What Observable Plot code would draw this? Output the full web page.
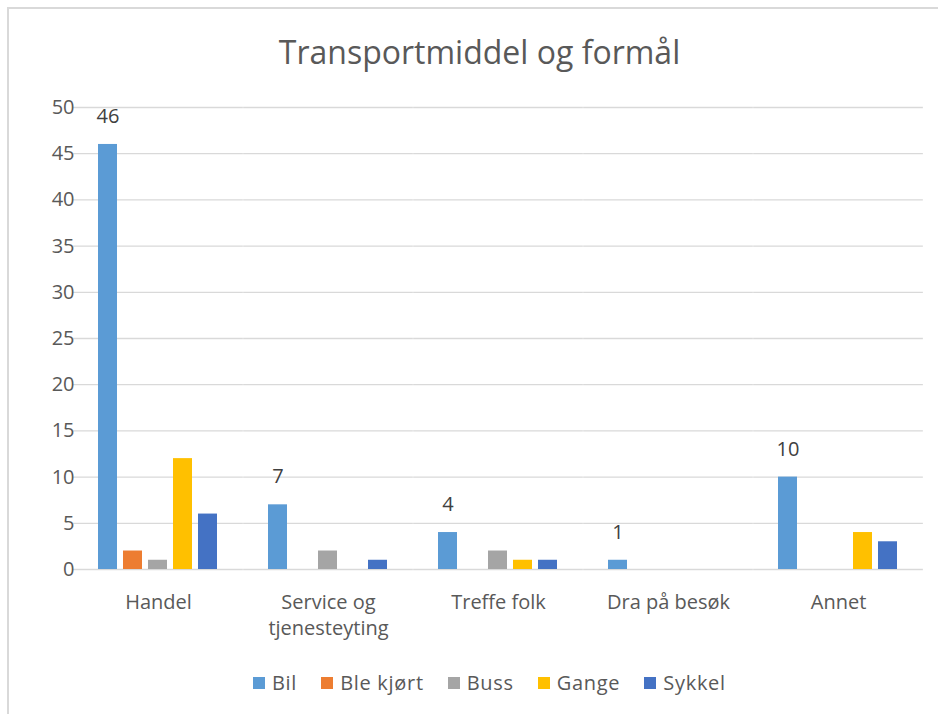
<!DOCTYPE html>
<html>
<head>
<meta charset="utf-8">
<script src="https://cdn.jsdelivr.net/npm/d3@7"></script>
<script src="https://cdn.jsdelivr.net/npm/@observablehq/plot@0.6"></script>
<style>
  html, body { margin: 0; padding: 0; background: #fff; }
  body { width: 938px; height: 714px; position: relative; overflow: hidden; font-family: "Open Sans", sans-serif; }
  #frame { position: absolute; left: 7px; top: 7px; width: 940px; height: 720px; border-left: 2px solid #d9d9d9; border-top: 2px solid #d9d9d9; box-sizing: border-box; }
  #title { position: absolute; left: 0; top: 36px; width: 959px; text-align: center; font-size: 32px; line-height: 32px; color: #595959; font-weight: 400; }
  #chart { position: absolute; left: 0; top: 0; }
  #legend { position: absolute; left: 253px; top: 673px; display: flex; align-items: center; font-size: 20px; line-height: 20px; color: #595959; letter-spacing: 0.7px; }
  #legend .item { display: flex; align-items: center; margin-right: 24px; }
  #legend .sw { width: 12px; height: 12px; margin-right: 7px; }
</style>
</head>
<body>
<div id="frame"></div>
<div id="title"></div>
<div id="chart"></div>
<div id="legend"></div>
<script>
const title = "Transportmiddel og formål";
const categories = ["Handel", "Service og tjenesteyting", "Treffe folk", "Dra på besøk", "Annet"];
const series = ["Bil", "Ble kjørt", "Buss", "Gange", "Sykkel"];
const colors = ["#5B9BD5", "#ED7D31", "#A5A5A5", "#FFC000", "#4472C4"];
const bil      = [46, 7, 4, 1, 10];
const bleKjort = [2, 0, 0, 0, 0];
const buss     = [1, 2, 2, 0, 0];
const gange    = [12, 0, 1, 0, 4];
const sykkel   = [6, 1, 1, 0, 3];
const yTicks = [0, 5, 10, 15, 20, 25, 30, 35, 40, 45, 50];
const labeledSeries = "Bil";

const valuesBySeries = [bil, bleKjort, buss, gange, sykkel];
const data = [];
categories.forEach((c, i) => {
  series.forEach((s, j) => {
    data.push({category: c, series: s, value: valuesBySeries[j][i]});
  });
});

document.getElementById("title").textContent = title;

const W = 938, ML = 72, MR = 14;
const fxPadInner = 0.28, fxPadOuter = 0.14;
const fxStep = (W - ML - MR) / (categories.length - fxPadInner + 2 * fxPadOuter);
const gridExtend = -fxStep * fxPadInner / 2;

const chart = Plot.plot({
  width: W,
  height: 650,
  marginLeft: ML,
  marginRight: MR,
  marginTop: 107,
  marginBottom: 81,
  style: {fontFamily: "'Open Sans', sans-serif", fontSize: "20px", color: "#595959", background: "transparent"},
  fx: {domain: categories, paddingInner: fxPadInner, paddingOuter: fxPadOuter, axis: null, label: null},
  x: {domain: series, paddingInner: 0.23, paddingOuter: 0, axis: null, label: null},
  y: {domain: [0, 50], axis: null, label: null},
  color: {domain: series, range: colors},
  marks: [
    Plot.ruleY(yTicks, {y: d => d, stroke: "#d9d9d9", strokeWidth: 1.3, insetLeft: gridExtend, insetRight: gridExtend}),
    Plot.axisY(yTicks, {anchor: "left", tickSize: 0, tickPadding: 23, fontSize: 20, fill: "#595959", label: null}),
    Plot.axisFx({anchor: "bottom", tickSize: 0, tickPadding: 21, fontSize: 20, fill: "#595959", lineHeight: 1.3, label: null,
      tickFormat: d => d.replace(" og ", " og\n")}),
    Plot.barY(data.filter(d => d.value > 0), {fx: "category", x: "series", y: "value", fill: "series"}),
    Plot.text(data.filter(d => d.series === labeledSeries), {fx: "category", x: "series", y: "value", text: d => String(d.value), dy: -28, fontSize: 20, fill: "#404040"})
  ]
});
document.getElementById("chart").appendChild(chart);

const legend = document.getElementById("legend");
series.forEach((s, j) => {
  const item = document.createElement("div");
  item.className = "item";
  const sw = document.createElement("span");
  sw.className = "sw";
  sw.style.background = colors[j];
  const t = document.createElement("span");
  t.textContent = s;
  item.appendChild(sw);
  item.appendChild(t);
  legend.appendChild(item);
});
</script>
</body>
</html>
